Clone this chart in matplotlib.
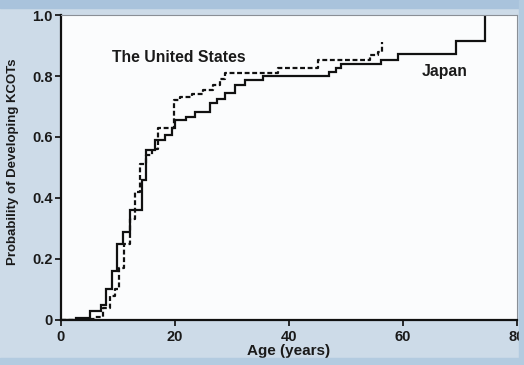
import matplotlib
matplotlib.use("Agg")
import matplotlib.pyplot as plt
from matplotlib.patches import Rectangle

plt.rcParams['font.family'] = ['Liberation Sans', 'DejaVu Sans']
plt.rcParams['font.weight'] = 'bold'

# Japan (solid) - cumulative probability steps
jpAge = [0, 2.7, 5.1, 7.1, 7.9, 8.9, 9.9, 10.9, 12.1, 14.2, 14.9, 16.5, 18.2, 19.5,
         20.0, 22.0, 23.5, 26.1, 27.3, 28.8, 30.5, 32.3, 35.5, 47.1, 48.3, 49.2,
         56.1, 59.2, 69.3, 74.4]
jpProb = [0, 0.005, 0.03, 0.05, 0.10, 0.16, 0.25, 0.29, 0.36, 0.46, 0.556, 0.59, 0.607, 0.63,
          0.656, 0.667, 0.683, 0.71, 0.725, 0.745, 0.77, 0.787, 0.80, 0.814, 0.825, 0.839,
          0.852, 0.872, 0.916, 1.0]

# The United States (dashed)
usAge = [0, 3.5, 6.0, 7.4, 8.6, 9.5, 10.2, 11.1, 12.1, 13.0, 13.9, 15.0, 15.9, 17.0,
         19.8, 20.9, 22.9, 25.0, 26.7, 27.9, 28.8, 38.1, 45.1, 54.2, 55.6, 56.4]
usProb = [0, 0.003, 0.01, 0.04, 0.08, 0.10, 0.17, 0.25, 0.33, 0.42, 0.51, 0.54, 0.56, 0.63,
          0.72, 0.73, 0.74, 0.755, 0.77, 0.79, 0.81, 0.825, 0.852, 0.869, 0.88, 0.913]

xTicks = [0, 20, 40, 60, 80]
yTicks = [0, 0.2, 0.4, 0.6, 0.8, 1.0]
yTickLabels = ["0", "0.2", "0.4", "0.6", "0.8", "1.0"]

fig = plt.figure(figsize=(5.24, 3.65), dpi=100, facecolor='#cddbe8')
# slide-like border bands
fig.patches.append(Rectangle((0, 0.978), 1, 0.022, transform=fig.transFigure, color='#a9c3dc', zorder=0))
fig.patches.append(Rectangle((0, 0), 1, 0.02, transform=fig.transFigure, color='#b3cbe0', zorder=0))
fig.patches.append(Rectangle((0.99, 0), 0.01, 1, transform=fig.transFigure, color='#b3cbe0', zorder=0))

ax = fig.add_axes([0.1164, 0.1233, 0.8702, 0.8356])
ax.set_facecolor('#fbfcfd')

ax.step(jpAge, jpProb, where='post', color='#111111', lw=1.6, solid_joinstyle='miter')
ax.step(usAge, usProb, where='post', color='#111111', lw=1.6, linestyle=(0, (2.2, 1.2)))

ax.text(9.0, 0.862, "The United States", fontsize=11.3, fontweight='bold', color='#1a1a1a', va='center')
ax.text(63.3, 0.816, "Japan", fontsize=11.3, fontweight='bold', color='#1a1a1a', va='center')

ax.set_xlim(0, 80)
ax.set_ylim(0, 1.0)
ax.set_xticks(xTicks)
ax.set_yticks(yTicks)
ax.set_yticklabels(yTickLabels)
ax.tick_params(axis='both', direction='out', length=4, width=1.3, labelsize=10.5, colors='#1a1a1a')
ax.tick_params(axis='x', pad=3)
ax.tick_params(axis='y', pad=2)

ax.set_xlabel("Age (years)", fontsize=11, fontweight='bold', color='#1a1a1a')
ax.set_ylabel("Probability of Developing KCOTs", fontsize=9.5, fontweight='bold', color='#1a1a1a')
ax.xaxis.set_label_coords(0.5, -0.08)
ax.yaxis.set_label_coords(-0.092, 0.52)

for side in ['left', 'bottom']:
    ax.spines[side].set_linewidth(1.6)
    ax.spines[side].set_color('#111111')
for side in ['top', 'right']:
    ax.spines[side].set_linewidth(0.8)
    ax.spines[side].set_color('#8a8f96')

fig.savefig("out.png", dpi=100, facecolor=fig.get_facecolor())
